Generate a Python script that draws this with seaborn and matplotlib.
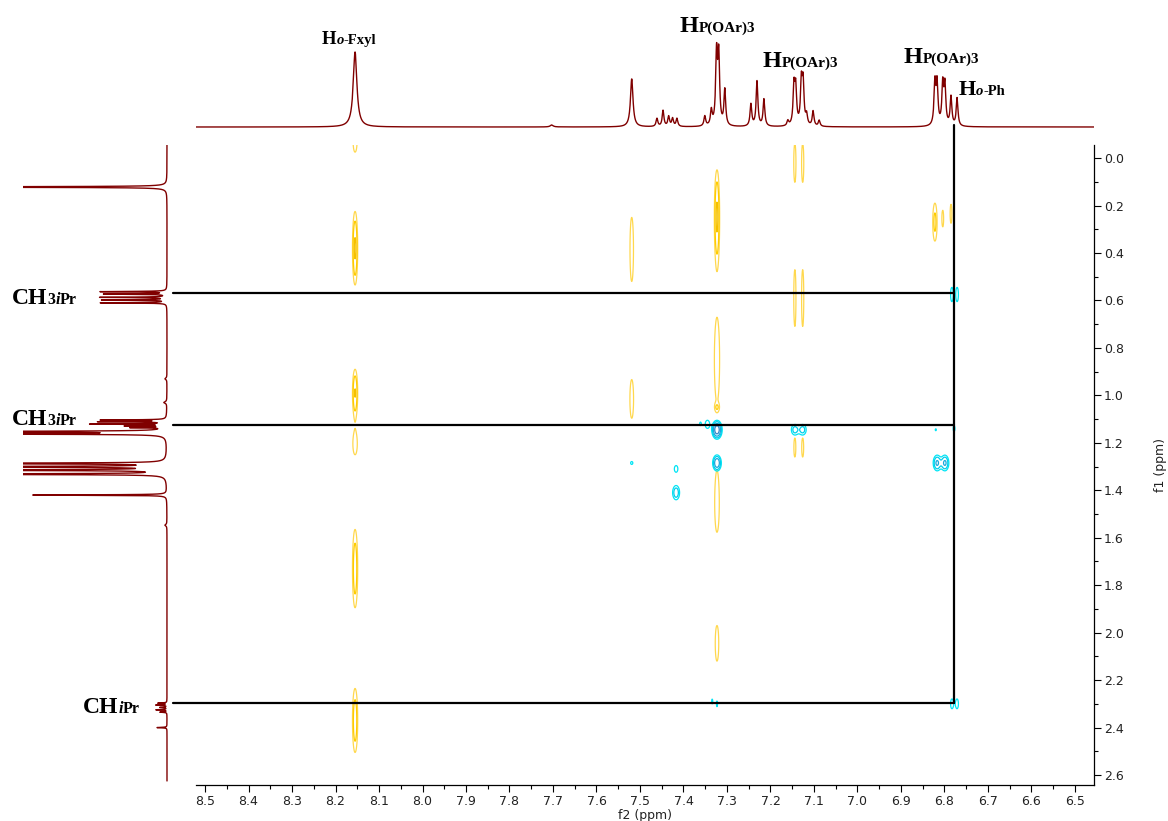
import numpy as np
import matplotlib
matplotlib.use("Agg")
import matplotlib.pyplot as plt
from matplotlib.ticker import MultipleLocator, FormatStrFormatter
import seaborn as sns

# 1H projection on top (f2): peak ppm, height (px above baseline), half width (ppm)
top_ppm = [8.155, 7.703, 7.519, 7.461, 7.447, 7.434, 7.425, 7.415, 7.351, 7.336,
           7.324, 7.319, 7.305, 7.245, 7.231, 7.215, 7.160, 7.146, 7.142, 7.129,
           7.125, 7.117, 7.102, 7.088, 6.822, 6.817, 6.804, 6.799, 6.785, 6.771]
top_height = [75, 2, 48, 8, 16, 10, 8, 8, 10, 15,
              70, 68, 36, 22, 45, 27, 5, 38, 36, 42,
              41, 10, 15, 6, 42, 41, 40, 39, 29, 28]
top_width = [0.005, 0.004, 0.0035] + [0.0024] * 27

# 1H projection on the left (f1)
left_ppm = [0.122, 0.563, 0.573, 0.587, 0.598, 0.610, 0.93, 1.03, 1.104, 1.111,
            1.121, 1.129, 1.136, 1.153, 1.162, 1.287, 1.301, 1.315, 1.332, 1.42,
            1.547, 2.297, 2.305, 2.315, 2.325, 2.335, 2.40]
left_height = [400, 66, 62, 66, 64, 66, 2, 3, 64, 66,
               74, 38, 32, 500, 500, 500, 500, 500, 500, 134,
               2, 9, 11, 7, 11, 7, 10]
left_width = [0.0012] * 6 + [0.004, 0.004] + [0.0012] * 12 + [0.004] + [0.0012] * 6

# cross peaks: f2, f1, half width, half height (outer contour), amplitude
pos_f2 = [8.155, 8.155, 8.155, 8.155, 8.155, 8.155, 7.519, 7.519, 7.323, 7.323, 7.323,
          7.323, 7.323, 7.144, 7.126, 7.144, 7.126, 7.144, 7.126, 6.822, 6.804, 6.785]
pos_f1 = [-0.07, 0.38, 0.99, 1.205, 1.73, 2.37, 0.385, 1.02, 0.245, 0.85, 1.05,
          1.46, 2.045, 0.02, 0.02, 0.59, 0.59, 1.22, 1.22, 0.27, 0.255, 0.235]
pos_w2 = [0.0045, 0.006, 0.006, 0.005, 0.006, 0.006, 0.004, 0.004, 0.006, 0.006, 0.0015,
          0.005, 0.004, 0.0025, 0.0025, 0.0025, 0.0025, 0.0022, 0.0022, 0.005, 0.002, 0.002]
pos_w1 = [0.045, 0.155, 0.10, 0.045, 0.165, 0.135, 0.135, 0.075, 0.195, 0.175, 0.005,
          0.115, 0.075, 0.08, 0.08, 0.12, 0.12, 0.04, 0.04, 0.08, 0.035, 0.04]
pos_amp = [1.5, 3.2, 3.0, 1.3, 2.5, 2.5, 1.2, 1.2, 3.2, 1.3, 1.1,
           1.5, 1.5, 1.3, 1.3, 1.3, 1.3, 1.3, 1.3, 2.0, 1.2, 1.2]

neg_f2 = [7.323, 7.345, 7.361, 7.323, 7.519, 7.417, 7.417, 7.144, 7.126, 6.817,
          6.799, 6.783, 6.771, 6.778, 6.820, 6.783, 6.771, 7.334, 7.323]
neg_f1 = [1.145, 1.122, 1.12, 1.285, 1.285, 1.31, 1.41, 1.145, 1.145, 1.285,
          1.285, 0.575, 0.575, 1.14, 1.145, 2.30, 2.30, 2.29, 2.30]
neg_w2 = [0.012, 0.005, 0.0018, 0.010, 0.0025, 0.004, 0.008, 0.008, 0.008, 0.009,
          0.009, 0.003, 0.003, 0.002, 0.0012, 0.003, 0.003, 0.0012, 0.0012]
neg_w1 = [0.040, 0.017, 0.007, 0.034, 0.006, 0.014, 0.03, 0.022, 0.022, 0.033,
          0.033, 0.03, 0.03, 0.012, 0.004, 0.02, 0.02, 0.01, 0.012]
neg_amp = [7.0, 1.6, 1.2, 4.5, 1.2, 1.3, 2.5, 2.2, 2.2, 3.2,
           3.2, 1.5, 1.5, 1.2, 1.1, 1.3, 1.3, 1.1, 1.1]

levels = [1.0, 1.7, 2.9, 4.9, 8.0]
pos_colors = ["#FFD84D", "#FFCC00", "#F5C000", "#EBB400"]
neg_colors = ["#00E5F5", "#00CDEB", "#1AA8DC", "#2F86C8"]

# correlation lines (ppm)
link_f1 = [0.569, 1.125, 2.297]
link_f2 = 6.778
link_start = 8.574

W, H = 1168, 821
xlim = (8.5207, 6.4563)
ylim = (2.642, -0.055)


def lorentz(grid, centers, heights, widths):
    out = np.zeros_like(grid)
    for c, h, w in zip(centers, heights, widths):
        out += h * w ** 2 / ((grid - c) ** 2 + w ** 2)
    return out


xg = np.linspace(6.45, 8.53, 3000)
yg = np.linspace(-0.2, 2.7, 2000)


def surface(f2, f1, w2, w1, amp):
    z = np.zeros((yg.size, xg.size))
    for x0, y0, hx, hy, a in zip(f2, f1, w2, w1, amp):
        k = np.sqrt(2 * np.log(a))
        sx, sy = hx / k, hy / k
        i0, i1 = np.searchsorted(xg, [x0 - 6 * sx, x0 + 6 * sx])
        j0, j1 = np.searchsorted(yg, [y0 - 6 * sy, y0 + 6 * sy])
        gx = np.exp(-0.5 * ((xg[i0:i1] - x0) / sx) ** 2)
        gy = np.exp(-0.5 * ((yg[j0:j1] - y0) / sy) ** 2)
        z[j0:j1, i0:i1] += a * np.outer(gy, gx)
    return z


sns.set_style("ticks")
fig = plt.figure(figsize=(W / 100, H / 100), dpi=100)

ax = fig.add_axes([196 / W, 1 - 785 / H, 898 / W, 640 / H])
ax_top = fig.add_axes([196 / W, 1 - 140 / H, 898 / W, 130 / H])
ax_left = fig.add_axes([23 / W, 1 - 785 / H, 152 / W, 640 / H])

# top 1D trace
x_top = np.linspace(6.45, 8.53, 12000)
sns.lineplot(x=x_top, y=lorentz(x_top, top_ppm, top_height, top_width),
             ax=ax_top, color="#800000", linewidth=1.0, estimator=None)
ax_top.set_xlim(xlim)
ax_top.set_ylim(-13, 117)
ax_top.axis("off")

# left 1D trace
y_left = np.linspace(-0.06, 2.625, 16000)
sns.lineplot(x=lorentz(y_left, left_ppm, left_height, left_width), y=y_left,
             orient="y", ax=ax_left, color="#800000", linewidth=1.0, estimator=None)
ax_left.set_ylim(ylim)
ax_left.set_xlim(144, -8)
ax_left.axis("off")

# 2D map
ax.contour(xg, yg, surface(pos_f2, pos_f1, pos_w2, pos_w1, pos_amp),
           levels=levels, colors=pos_colors, linewidths=0.9)
ax.contour(xg, yg, surface(neg_f2, neg_f1, neg_w2, neg_w1, neg_amp),
           levels=levels, colors=neg_colors, linewidths=0.9)
ax.set_xlim(xlim)
ax.set_ylim(ylim)

for f1 in link_f1:
    ax.plot([link_start, link_f2], [f1, f1], color="black", lw=1.6, clip_on=False, zorder=5)
ax.plot([link_f2, link_f2], [-0.139, link_f1[-1]], color="black", lw=1.6, clip_on=False, zorder=5)

ax.spines["top"].set_visible(False)
ax.spines["left"].set_visible(False)
ax.spines["right"].set_visible(True)
for side in ("bottom", "right"):
    ax.spines[side].set_color("black")
    ax.spines[side].set_linewidth(0.9)
ax.xaxis.set_major_locator(MultipleLocator(0.1))
ax.xaxis.set_minor_locator(MultipleLocator(0.05))
ax.xaxis.set_major_formatter(FormatStrFormatter("%.1f"))
ax.yaxis.tick_right()
ax.yaxis.set_label_position("right")
ax.yaxis.set_major_locator(MultipleLocator(0.2))
ax.yaxis.set_minor_locator(MultipleLocator(0.1))
ax.yaxis.set_major_formatter(FormatStrFormatter("%.1f"))
ax.tick_params(which="major", direction="out", length=5, width=0.8, labelsize=9,
               pad=2, color="black", labelcolor="#222222")
ax.tick_params(which="minor", direction="out", length=3, width=0.8, color="black")
ax.tick_params(axis="y", which="both", left=False, right=True)
ax.set_xlabel("f2 (ppm)", fontsize=9, labelpad=1, color="#222222")
ax.set_ylabel("f1 (ppm)", fontsize=9, labelpad=22, color="#222222")

# peak labels (pieces laid out on a common baseline)
renderer = fig.canvas.get_renderer()


def put_label(x, y, pieces):
    for s, size, style in pieces:
        t = fig.text(x / W, 1 - y / H, s, fontsize=size, fontweight="bold", color="black",
                     fontstyle=style, family="Liberation Serif", va="baseline", ha="left")
        x += t.get_window_extent(renderer).width


sub_poar = ("P(OAr)3", 11, "normal")
put_label(322, 44, [("H", 13.5, "normal"), ("o", 10.5, "italic"), ("-Fxyl", 10.5, "normal")])
put_label(680, 32, [("H", 17.5, "normal"), sub_poar])
put_label(763, 67, [("H", 17.5, "normal"), sub_poar])
put_label(904, 63, [("H", 17.5, "normal"), sub_poar])
put_label(959, 95, [("H", 16, "normal"), ("o", 10.5, "italic"), ("-Ph", 10.5, "normal")])
put_label(12, 304, [("CH", 17, "normal"), ("3", 11.5, "normal"), ("i", 11.5, "italic"), ("Pr", 11.5, "normal")])
put_label(12, 425, [("CH", 17, "normal"), ("3", 11.5, "normal"), ("i", 11.5, "italic"), ("Pr", 11.5, "normal")])
put_label(83, 713, [("CH", 17, "normal"), ("i", 11.5, "italic"), ("Pr", 11.5, "normal")])

fig.savefig("out.png", dpi=100)
